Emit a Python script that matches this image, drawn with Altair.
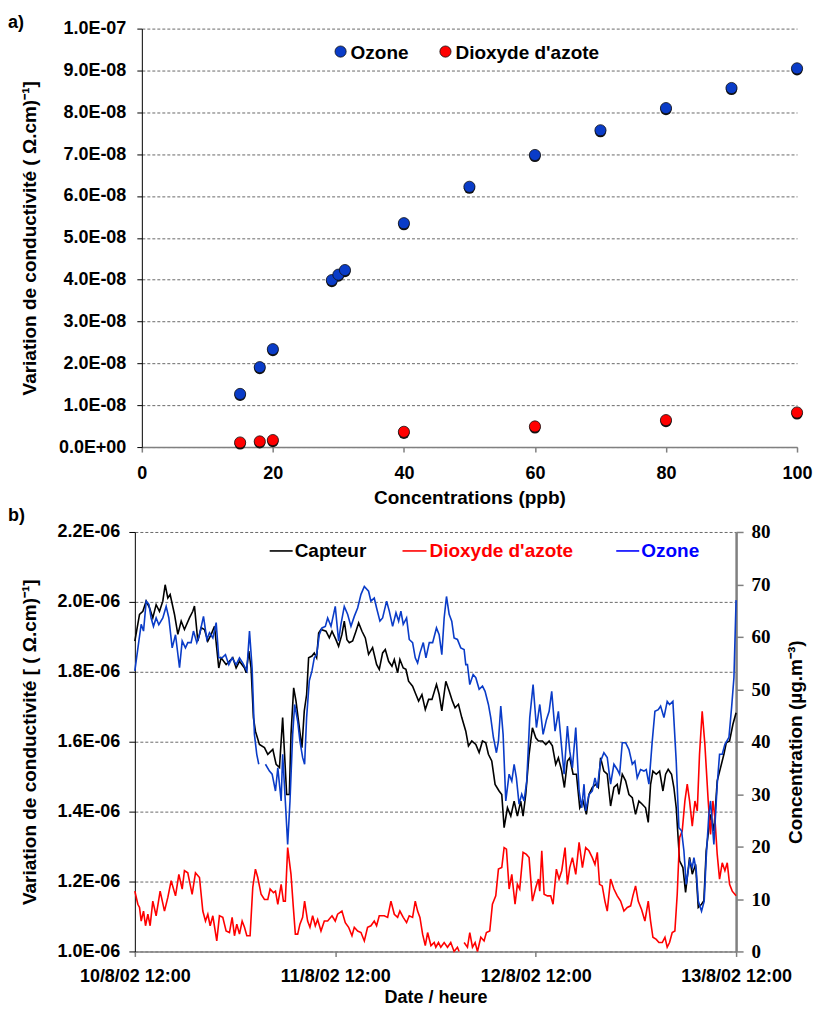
import altair as alt
import pandas as pd

# ---------------- Panel a) : conductivity variation vs concentration ----------------
conc_ozone = [15, 18, 20, 29, 30, 31, 40, 50, 60, 70, 80, 90, 100]
cond_ozone = [1.27e-8, 1.91e-8, 2.34e-8, 3.99e-8, 4.12e-8, 4.23e-8, 5.35e-8,
              6.22e-8, 6.98e-8, 7.57e-8, 8.10e-8, 8.58e-8, 9.05e-8]
conc_no2 = [15, 18, 20, 40, 60, 80, 100]
cond_no2 = [1.1e-9, 1.35e-9, 1.67e-9, 3.65e-9, 4.93e-9, 6.44e-9, 8.27e-9]

# ---------------- Panel b) : time series (hours after 10/8/02 12:00) ----------------
# Capteur, in units of 1E-06 (ohm.cm)^-1
capteur = [
    (0.0, 1.888), (0.56, 1.964), (0.96, 1.973), (1.36, 2.002), (1.76, 1.983), (2.15, 1.954),
    (2.55, 1.992), (2.95, 1.973), (3.35, 2.002), (3.63, 2.049), (3.95, 2.011), (4.23, 2.021),
    (4.75, 1.964), (5.15, 1.907), (5.55, 1.945), (5.94, 1.921), (6.54, 1.954), (6.94, 1.973),
    (7.14, 1.988), (7.54, 1.888), (7.94, 1.926), (8.34, 1.921), (8.74, 1.888), (9.14, 1.907),
    (9.54, 1.930), (10.05, 1.811), (10.33, 1.840), (10.93, 1.821), (11.73, 1.840), (12.13, 1.811),
    (12.53, 1.830), (13.13, 1.811), (13.33, 1.797), (13.65, 1.859), (13.92, 1.811), (14.20, 1.669),
    (14.44, 1.630), (14.92, 1.592), (15.52, 1.583), (15.92, 1.564), (16.52, 1.578), (16.92, 1.535),
    (17.32, 1.526), (17.70, 1.669), (18.18, 1.449), (18.50, 1.449), (18.70, 1.621), (19.02, 1.754),
    (19.30, 1.716), (19.70, 1.640), (20.01, 1.583), (20.29, 1.688), (20.57, 1.735), (20.81, 1.840),
    (21.21, 1.845), (21.49, 1.854), (21.77, 1.840), (22.01, 1.911), (22.29, 1.921), (22.89, 1.916),
    (23.29, 1.897), (23.61, 1.916), (24.08, 1.892), (24.40, 1.873), (24.80, 1.907), (25.08, 1.945),
    (25.40, 1.892), (25.68, 1.883), (26.08, 1.888), (26.48, 1.916), (26.80, 1.940), (27.20, 1.916),
    (27.60, 1.897), (27.99, 1.850), (28.47, 1.869), (28.95, 1.821), (29.27, 1.807), (29.67, 1.854),
    (29.99, 1.864), (30.39, 1.830), (30.79, 1.816), (31.07, 1.835), (31.47, 1.797), (31.74, 1.835),
    (32.14, 1.811), (32.46, 1.807), (32.78, 1.773), (33.26, 1.759), (33.66, 1.735), (33.98, 1.716),
    (34.38, 1.735), (34.78, 1.692), (35.18, 1.721), (35.58, 1.721), (36.12, 1.764), (36.44, 1.735),
    (36.76, 1.688), (37.24, 1.773), (37.64, 1.745), (38.03, 1.716), (38.35, 1.697), (38.75, 1.707),
    (39.15, 1.669), (39.63, 1.630), (39.95, 1.588), (40.35, 1.602), (40.83, 1.592), (41.23, 1.569),
    (41.63, 1.602), (42.02, 1.597), (42.34, 1.564), (42.74, 1.545), (43.14, 1.478), (43.62, 1.459),
    (43.94, 1.449), (44.22, 1.354), (44.62, 1.411), (45.02, 1.387), (45.42, 1.430), (45.81, 1.387),
    (46.21, 1.430), (46.49, 1.387), (46.81, 1.449), (47.21, 1.564), (47.61, 1.640), (48.01, 1.611),
    (48.33, 1.602), (48.81, 1.602), (49.21, 1.592), (49.61, 1.602), (50.00, 1.588), (50.40, 1.535),
    (50.72, 1.554), (51.12, 1.516), (51.44, 1.469), (51.80, 1.545), (52.08, 1.554), (52.48, 1.507),
    (52.88, 1.507), (53.28, 1.411), (53.67, 1.430), (54.07, 1.392), (54.38, 1.449), (54.78, 1.469),
    (55.18, 1.478), (55.50, 1.469), (55.77, 1.554), (56.17, 1.516), (56.57, 1.507), (56.97, 1.416),
    (57.37, 1.469), (57.77, 1.478), (57.97, 1.449), (58.37, 1.507), (58.77, 1.488), (59.17, 1.449),
    (59.57, 1.440), (59.96, 1.392), (60.36, 1.430), (60.76, 1.421), (61.16, 1.411), (61.48, 1.369),
    (61.76, 1.478), (62.04, 1.516), (62.44, 1.507), (62.84, 1.516), (63.24, 1.459), (63.56, 1.507),
    (63.87, 1.521), (64.27, 1.507), (64.55, 1.469), (64.83, 1.411), (65.23, 1.259), (65.63, 1.240),
    (65.95, 1.169), (66.43, 1.269), (66.75, 1.221), (67.15, 1.249), (67.47, 1.126), (67.86, 1.135),
    (68.14, 1.145), (68.42, 1.288), (68.94, 1.392), (69.34, 1.345), (69.74, 1.488), (70.14, 1.526),
    (70.54, 1.564), (70.82, 1.597), (71.22, 1.602), (71.62, 1.650), (72.0, 1.683),
]

# Ozone, µg/m3 (right axis)
ozone = [
    (0.0, 53.5), (0.48, 59.2), (0.76, 62.4), (1.04, 61.1), (1.36, 66.8), (1.68, 66.2), (1.95, 63.6),
    (2.23, 62.0), (2.55, 63.6), (2.87, 62.3), (3.35, 63.6), (3.75, 65.8), (4.07, 63.6), (4.47, 57.9),
    (4.87, 60.4), (5.35, 54.1), (5.67, 59.2), (6.06, 57.9), (6.34, 58.9), (6.74, 58.9), (7.02, 61.1),
    (7.42, 58.9), (7.74, 60.4), (8.22, 63.9), (8.62, 59.5), (8.94, 60.8), (9.34, 59.8), (9.74, 62.7),
    (10.05, 56.0), (10.45, 56.0), (10.85, 56.6), (11.25, 54.7), (11.65, 56.0), (12.13, 54.7),
    (12.53, 56.0), (12.93, 55.0), (13.41, 53.5), (13.73, 61.1), (14.04, 54.1), (14.32, 41.4),
    (14.60, 37.6), (14.84, 35.7), (15.2, None), (15.64, 35.7), (16.12, 34.4), (16.44, 33.8),
    (16.84, 30.6), (17.12, 35.0), (17.52, 28.7), (17.70, 37.6), (18.02, 28.7), (18.30, 20.4),
    (18.58, 28.7), (18.90, 41.4), (19.14, 47.1), (19.50, 43.9), (19.77, 40.1), (20.09, 37.0),
    (20.33, 35.7), (20.57, 44.6), (20.89, 51.6), (21.21, 53.5), (21.49, 56.0), (21.77, 56.6),
    (22.09, 60.4), (22.41, 61.7), (22.81, 62.0), (23.09, 63.6), (23.49, 62.0), (24.00, 65.8),
    (24.40, 59.2), (24.68, 62.4), (25.08, 65.8), (25.48, 64.3), (25.88, 62.0), (26.28, 63.9),
    (26.68, 65.5), (27.08, 68.1), (27.48, 69.6), (27.99, 68.7), (28.27, 66.8), (28.67, 67.4),
    (28.95, 65.5), (29.35, 63.0), (29.67, 63.6), (30.15, 66.8), (30.47, 64.9), (30.87, 62.0),
    (31.27, 64.6), (31.59, 63.0), (31.86, 64.9), (32.14, 62.4), (32.54, 63.6), (32.86, 59.5),
    (33.26, 58.9), (33.58, 56.0), (33.86, 55.0), (34.14, 56.9), (34.54, 58.9), (34.86, 56.0),
    (35.26, 58.9), (35.66, 58.9), (36.12, 61.7), (36.44, 60.4), (36.76, 56.6), (37.04, 63.6),
    (37.32, 67.7), (37.64, 64.3), (37.95, 63.0), (38.23, 59.8), (38.63, 59.5), (39.03, 57.9),
    (39.43, 57.6), (39.63, 54.7), (39.83, 54.7), (40.11, 50.9), (40.51, 52.8), (40.83, 52.2),
    (41.23, 50.0), (41.63, 50.6), (41.94, 49.6), (42.34, 47.1), (42.62, 44.6), (42.94, 40.8),
    (43.30, 37.9), (43.54, 40.1), (43.82, 46.8), (44.10, 41.4), (44.42, 28.7), (44.82, 33.8),
    (45.14, 32.5), (45.42, 35.7), (45.69, 33.1), (46.01, 28.1), (46.33, 30.0), (46.61, 28.7),
    (46.93, 32.5), (47.29, 44.6), (47.69, 50.9), (48.09, 42.7), (48.49, 47.1), (48.89, 41.4),
    (49.29, 44.2), (49.61, 45.8), (49.92, 49.6), (50.32, 42.0), (50.72, 45.8), (51.04, 40.1),
    (51.40, 33.8), (51.80, 43.0), (52.08, 38.2), (52.40, 35.0), (52.80, 42.7), (53.20, 30.6),
    (53.52, 27.4), (53.79, 31.9), (53.98, 26.8), (54.38, 29.9), (54.78, 30.6), (55.10, 33.1),
    (55.38, 31.2), (55.77, 36.3), (56.17, 37.9), (56.57, 37.0), (56.97, 31.9), (57.37, 35.7),
    (57.77, 34.7), (58.05, 33.8), (58.37, 39.8), (58.77, 39.8), (59.17, 38.5), (59.57, 35.7),
    (59.88, 36.3), (60.16, 33.1), (60.56, 34.7), (60.96, 34.4), (61.24, 34.7), (61.56, 31.9),
    (61.96, 40.1), (62.28, 45.8), (62.68, 46.1), (62.96, 46.8), (63.36, 44.6), (63.75, 47.7),
    (64.03, 47.1), (64.43, 47.7), (64.83, 36.3), (65.15, 23.6), (65.47, 23.0), (65.75, 19.2),
    (66.03, 12.8), (66.43, 17.3), (66.75, 16.0), (66.95, 17.9), (67.23, 15.4), (67.47, 9.6),
    (67.86, 7.7), (68.18, 9.6), (68.42, 17.9), (68.74, 26.2), (68.94, 28.7), (69.34, 20.4),
    (69.74, 31.9), (70.02, 37.6), (70.34, 37.6), (70.66, 39.5), (71.14, 40.8), (71.46, 46.5),
    (71.74, 52.2), (72.0, 67.0),
]

# Dioxyde d'azote, µg/m3 (right axis)
no2 = [
    (0.0, 11.5), (0.36, 9.0), (0.56, 8.4), (0.76, 5.8), (1.04, 7.7), (1.28, 4.9), (1.56, 7.1),
    (1.83, 4.9), (2.15, 9.6), (2.55, 6.8), (3.03, 11.5), (3.55, 7.7), (3.95, 10.3), (4.35, 13.5),
    (4.87, 10.6), (5.27, 14.7), (5.67, 11.9), (5.94, 15.4), (6.34, 15.0), (6.86, 10.9), (7.26, 15.0),
    (7.74, 14.1), (8.14, 7.7), (8.46, 5.8), (8.74, 7.1), (9.02, 4.9), (9.34, 6.8), (9.81, 2.0),
    (10.13, 6.8), (10.53, 6.5), (10.93, 3.9), (11.33, 3.6), (11.65, 6.5), (11.93, 3.0), (12.21, 5.2),
    (12.53, 3.3), (12.85, 5.8), (13.13, 4.6), (13.41, 3.0), (13.80, 3.0), (14.12, 12.2), (14.44, 15.7),
    (14.72, 14.1), (15.12, 10.9), (15.52, 9.9), (15.92, 9.9), (16.20, 11.9), (16.60, 11.2),
    (16.84, 11.5), (17.12, 9.0), (17.52, 12.8), (17.79, 9.6), (18.02, 9.6), (18.30, 19.8),
    (18.70, 14.7), (18.98, 8.4), (19.22, 3.3), (19.50, 3.3), (19.77, 5.2), (20.09, 6.5), (20.33, 9.6),
    (20.69, 5.8), (20.97, 4.6), (21.29, 6.8), (21.61, 4.9), (21.89, 6.1), (22.29, 3.9), (22.69, 5.8),
    (23.09, 5.8), (23.61, 6.8), (24.00, 5.8), (24.28, 7.1), (24.80, 7.7), (25.20, 5.5), (25.60, 4.6),
    (26.00, 3.0), (26.28, 4.6), (26.68, 3.9), (27.08, 3.6), (27.48, 2.0), (27.87, 4.6), (28.27, 4.9),
    (28.67, 5.8), (28.95, 4.9), (29.27, 6.8), (29.87, 6.8), (30.27, 6.5), (30.67, 9.6), (31.07, 7.1),
    (31.47, 6.5), (31.74, 7.7), (32.14, 6.5), (32.54, 5.5), (32.86, 6.8), (33.26, 6.5), (33.58, 9.6),
    (33.86, 7.7), (34.14, 6.5), (34.46, 3.3), (34.78, 1.1), (35.06, 3.6), (35.46, 1.1), (35.85, 1.7),
    (36.04, 0.8), (36.36, 1.7), (36.64, 0.8), (37.04, 1.7), (37.44, 0.8), (37.83, 1.7), (38.23, 0.0),
    (38.63, 0.8), (38.83, 0.0), (39.1, None), (39.43, 1.7), (39.83, 0.8), (40.11, 3.6), (40.43, 0.8),
    (40.75, 1.7), (41.03, 0.0), (41.43, 2.7), (41.82, 2.0), (42.10, 3.6), (42.50, 3.9), (42.82, 9.0),
    (43.22, 10.6), (43.54, 15.7), (43.94, 16.0), (44.22, 19.8), (44.50, 19.5), (44.82, 11.9),
    (45.14, 14.7), (45.53, 9.0), (45.81, 12.8), (46.09, 11.9), (46.49, 18.9), (46.89, 18.5),
    (47.21, 17.9), (47.61, 9.6), (48.01, 12.2), (48.33, 13.8), (48.49, 11.5), (48.73, 19.2),
    (49.01, 10.9), (49.41, 10.6), (49.80, 10.6), (50.08, 9.0), (50.48, 15.7), (50.80, 13.8),
    (51.12, 15.4), (51.52, 19.8), (51.80, 12.8), (52.08, 16.0), (52.40, 17.9), (52.80, 14.7),
    (53.20, 20.8), (53.60, 16.0), (53.99, 19.8), (54.38, 19.2), (54.78, 17.9), (55.10, 16.6),
    (55.38, 18.9), (55.65, 12.8), (55.97, 12.5), (56.29, 9.6), (56.57, 7.7), (56.97, 13.8),
    (57.37, 11.9), (57.77, 10.6), (58.17, 9.6), (58.57, 7.7), (58.97, 8.4), (59.37, 8.7),
    (59.64, 10.6), (59.96, 12.5), (60.28, 9.6), (60.68, 8.0), (61.08, 5.8), (61.48, 9.6),
    (61.76, 5.8), (62.04, 2.7), (62.44, 2.3), (62.76, 1.7), (63.16, 1.7), (63.48, 2.7), (63.75, 0.8),
    (64.03, 1.7), (64.35, 3.6), (64.67, 3.9), (64.95, 10.9), (65.23, 21.7), (65.55, 23.0),
    (65.87, 28.7), (66.15, 31.9), (66.43, 28.7), (66.75, 23.9), (67.07, 28.7), (67.35, 26.8),
    (67.62, 37.6), (67.94, 45.8), (68.26, 39.5), (68.66, 28.7), (68.94, 22.3), (69.22, 28.7),
    (69.46, 25.5), (69.74, 18.5), (70.02, 13.8), (70.34, 16.9), (70.66, 15.4), (70.94, 16.9),
    (71.22, 12.8), (71.54, 11.5), (72.0, 10.6),
]

left_ticks_b = [1.0e-6, 1.2e-6, 1.4e-6, 1.6e-6, 1.8e-6, 2.0e-6, 2.2e-6]
right_ticks_b = [0, 10, 20, 30, 40, 50, 60, 70, 80]
ticks_a_y = [0, 1e-8, 2e-8, 3e-8, 4e-8, 5e-8, 6e-8, 7e-8, 8e-8, 9e-8, 1e-7]
ticks_a_x = [0, 20, 40, 60, 80, 100]

FONT = "Liberation Sans"
BLUE_A = "#0a3cc8"
RED = "#ff0000"
BLUE_B = "#0000ff"
GREY = "#808080"

SCI = "replace(replace(format(datum.value, '.1e'), 'e-', 'E-0'), 'e+', 'E+0')"

def one():
    return alt.Chart(alt.Data(values=[{}]))

def label(x, y, s, color="black", size=19, align="left"):
    return one().mark_text(text=s, align=align, baseline="middle", font=FONT,
                           fontWeight="bold", fontSize=size, color=color).encode(
        x=alt.value(x), y=alt.value(y))

# ---------------- build panel a ----------------
df_a = pd.DataFrame({
    "x": conc_ozone + conc_no2,
    "y": cond_ozone + cond_no2,
    "s": ["Ozone"] * len(conc_ozone) + ["Dioxyde d'azote"] * len(conc_no2),
})

xa = alt.X("x:Q", scale=alt.Scale(domain=[0, 100], nice=False),
           axis=alt.Axis(values=ticks_a_x, grid=False, domainColor=GREY, domainWidth=1.5,
                         tickColor=GREY, tickWidth=1.5, labelPadding=12, titlePadding=6,
                         labelFlush=False, title="Concentrations (ppb)"))
ya = alt.Y("y:Q", scale=alt.Scale(domain=[0, 1e-7], nice=False),
           axis=alt.Axis(values=ticks_a_y, labelExpr=SCI, grid=True, labelPadding=11,
                         titlePadding=19, labelFlush=False,
                         title="Variation de conductivité ( Ω.cm)⁻¹]"))

shadow_a = alt.Chart(df_a).mark_point(filled=True, size=125, color="#111111", opacity=1,
                                      yOffset=1.5).encode(x=xa, y=ya)
points_a = alt.Chart(df_a).mark_point(filled=True, size=125, stroke="#101010",
                                      strokeWidth=0.8, opacity=1).encode(
    x=xa, y=ya,
    color=alt.Color("s:N", scale=alt.Scale(domain=["Ozone", "Dioxyde d'azote"],
                                           range=[BLUE_A, RED]), legend=None))

leg_a = [
    one().mark_point(filled=True, size=125, color=BLUE_A, stroke="#101010", strokeWidth=0.8,
                     opacity=1).encode(x=alt.value(199), y=alt.value(23)),
    label(209, 24, "Ozone"),
    one().mark_point(filled=True, size=125, color=RED, stroke="#101010", strokeWidth=0.8,
                     opacity=1).encode(x=alt.value(304), y=alt.value(23)),
    label(314, 24, "Dioxyde d'azote"),
    label(-134, -6, "a)", size=18),
]

panel_a = alt.layer(shadow_a, points_a, *leg_a).properties(width=656, height=419)

# ---------------- build panel b ----------------
t0 = pd.Timestamp("2002-08-10 12:00").value // 10**6
H = 3600000
SHIFT = 7  # panel b's plot starts 7px left of panel a's

df_cap = pd.DataFrame({"ms": [t0 + t * H for t, _ in capteur],
                       "v": [v * 1e-6 for _, v in capteur]})
df_conc = pd.DataFrame({
    "ms": [t0 + t * H for t, _ in no2] + [t0 + t * H for t, _ in ozone],
    "c": [v for _, v in no2] + [v for _, v in ozone],
    "s": ["Dioxyde d'azote"] * len(no2) + ["Ozone"] * len(ozone),
})

DATE_LABEL = "utcFormat(datum.value, '%-d/%-m/%y %H:%M')"

xb = alt.X("ms:T", scale=alt.Scale(type="utc", domain=[t0, t0 + 72 * H], nice=False,
                                   range=[-SHIFT, 602 - SHIFT]),
           axis=alt.Axis(values=[t0, t0 + 24 * H, t0 + 48 * H, t0 + 72 * H],
                         labelExpr=DATE_LABEL, grid=False,
                         labelFlush=False, labelOverlap=False, domainColor=GREY,
                         domainWidth=1.5, tickColor=GREY, tickWidth=1.5,
                         labelPadding=11, titlePadding=3, titleFontSize=18,
                         title="Date / heure"))

cap_line = alt.Chart(df_cap).mark_line(color="black", strokeWidth=1.6).encode(
    x=xb,
    y=alt.Y("v:Q", scale=alt.Scale(domain=[1.0e-6, 2.2e-6], nice=False),
            axis=alt.Axis(values=left_ticks_b, labelExpr=SCI, grid=True, orient="left",
                          offset=SHIFT, tickSize=6, labelPadding=9, titlePadding=17,
                          labelFlush=False,
                          title="Variation de conductivité [ ( Ω.cm)⁻¹]")))

conc_lines = alt.Chart(df_conc).mark_line(strokeWidth=1.6).encode(
    x=xb,
    y=alt.Y("c:Q", scale=alt.Scale(domain=[0, 80], nice=False),
            axis=alt.Axis(values=right_ticks_b, grid=False, orient="right", offset=-SHIFT,
                          labelFont="Liberation Serif", labelFontSize=19, tickSize=7,
                          tickColor=GREY, tickWidth=1.5, domainColor=GREY, domainWidth=2.5,
                          labelPadding=8, labelFlush=False, titleAngle=270,
                          titleBaseline="top", titlePadding=16,
                          title="Concentration (µg.m⁻³)")),
    color=alt.Color("s:N", scale=alt.Scale(domain=["Dioxyde d'azote", "Ozone"],
                                           range=[RED, BLUE_B]), legend=None),
)

def leg_rule(x1, x2, y, color):
    return one().mark_rule(color=color, strokeWidth=1.6).encode(
        x=alt.value(x1), x2=alt.value(x2), y=alt.value(y))

leg_b = [
    leg_rule(128, 151, 19, "black"), label(153, 19, "Capteur"),
    leg_rule(261, 285, 19, RED), label(288, 19, "Dioxyde d'azote", color=RED),
    leg_rule(475, 498, 19, BLUE_B), label(500, 19, "Ozone", color=BLUE_B),
    label(-134, -16, "b)", size=18),
]

panel_b = alt.layer(cap_line, conc_lines, *leg_b).resolve_scale(y="independent").properties(
    width=602, height=420)

chart = alt.vconcat(panel_a, panel_b, spacing=0).properties(
    padding={"left": 0, "top": 5, "right": 0, "bottom": 0}
).configure_axis(
    labelFont=FONT, labelFontWeight="bold", labelFontSize=18, labelColor="black",
    titleFont=FONT, titleFontWeight="bold", titleFontSize=19, titleColor="black",
    domainColor="black", tickColor="black", tickSize=5,
    gridColor="#444444", gridDash=[3, 2], gridWidth=0.8,
).configure_view(stroke=None)

chart.save("out.html", embed_options={"renderer": "svg", "actions": False})
